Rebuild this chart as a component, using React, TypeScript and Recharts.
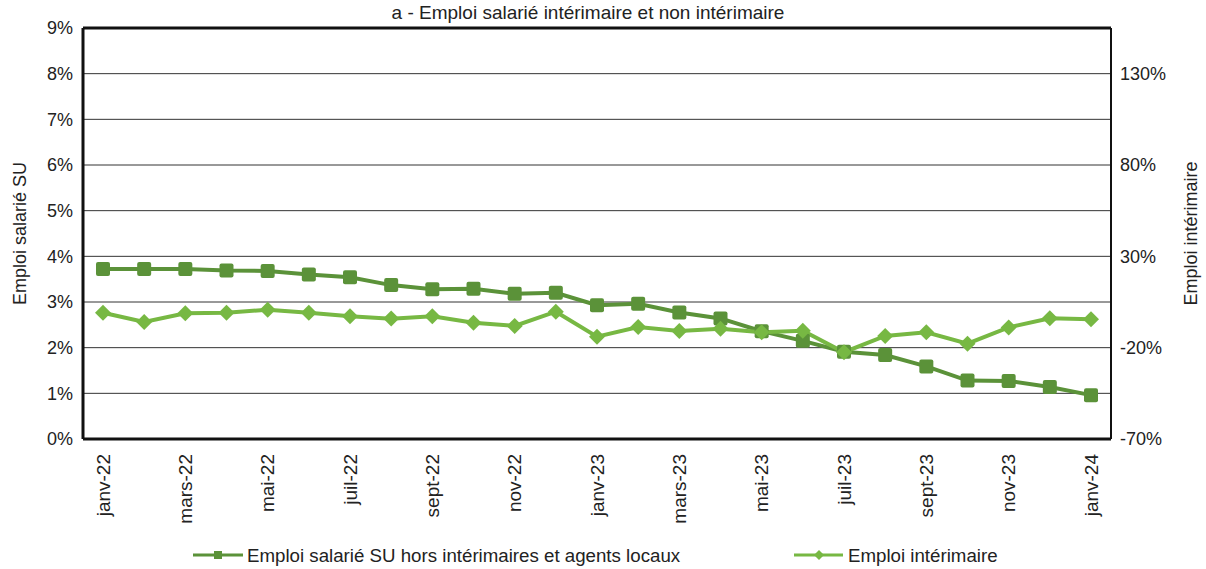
import React from "react";
import {
  LineChart,
  Line,
  XAxis,
  YAxis,
  CartesianGrid,
  ReferenceLine,
  Legend,
} from "recharts";

const months = [
  "janv-22", "févr-22", "mars-22", "avr-22", "mai-22", "juin-22", "juil-22", "août-22",
  "sept-22", "oct-22", "nov-22", "déc-22", "janv-23", "févr-23", "mars-23", "avr-23",
  "mai-23", "juin-23", "juil-23", "août-23", "sept-23", "oct-23", "nov-23", "déc-23", "janv-24",
];

// Emploi salarié SU hors intérimaires et agents locaux (left axis, %)
const salarieSU = [
  3.72, 3.72, 3.72, 3.69, 3.68, 3.6, 3.54, 3.37, 3.28, 3.29, 3.18, 3.2, 2.93,
  2.96, 2.77, 2.64, 2.36, 2.15, 1.91, 1.84, 1.59, 1.28, 1.27, 1.14, 0.96,
];

// Emploi intérimaire (right axis, %)
const interim = [
  -0.9, -5.9, -1.2, -0.9, 0.8, -0.9, -2.8, -4.1, -2.8, -6.3, -8.1, -0.3, -14.0,
  -8.7, -10.9, -9.6, -11.6, -10.7, -22.5, -13.6, -11.6, -17.8, -8.9, -3.9, -4.5,
];

const leftTicks = [0, 1, 2, 3, 4, 5, 6, 7, 8, 9];
const rightTicks = [-70, -20, 30, 80, 130];

const seriesNames = [
  "Emploi salarié SU hors intérimaires et agents locaux",
  "Emploi intérimaire",
];
const axisTitles = ["Emploi salarié SU", "Emploi intérimaire"];
const chartTitle = "a - Emploi salarié intérimaire et non intérimaire";

const DARK = "#5B9239";
const LIGHT = "#77B843";
const FONT = "'Liberation Sans', Arial, sans-serif";

const data = months.map((m, i) => ({ month: m, su: salarieSU[i], interim: interim[i] }));

const SquareDot = (props: any) => {
  const { cx, cy } = props;
  if (cx == null || cy == null) return null;
  return <rect x={cx - 7} y={cy - 7} width={14} height={14} rx={2} fill={DARK} />;
};

const DiamondDot = (props: any) => {
  const { cx, cy } = props;
  if (cx == null || cy == null) return null;
  const r = 8;
  return (
    <polygon
      points={`${cx},${cy - r} ${cx + r},${cy} ${cx},${cy + r} ${cx - r},${cy}`}
      fill={LIGHT}
    />
  );
};

const XTick = (props: any) => {
  const { x, y, payload } = props;
  const ty = y + 13;
  return (
    <text
      x={x}
      y={ty}
      transform={`rotate(-90, ${x}, ${ty})`}
      textAnchor="end"
      dy="0.35em"
      fill="#222"
      fontSize={19}
      fontFamily={FONT}
    >
      {payload.value}
    </text>
  );
};

const makeAxisLabel = (text: string, dxFromLeft: number) => (props: any) => {
  const vb = props.viewBox || {};
  const x = (vb.x ?? 0) + dxFromLeft;
  const y = (vb.y ?? 0) + (vb.height ?? 0) / 2;
  return (
    <text
      x={x}
      y={y}
      transform={`rotate(-90, ${x}, ${y})`}
      textAnchor="middle"
      dy="0.35em"
      fill="#222"
      fontSize={18}
      fontFamily={FONT}
    >
      {text}
    </text>
  );
};

const renderLegend = () => (
  <div style={{ position: "relative", width: 1206, height: 24, fontFamily: FONT }}>
    <svg width={1206} height={24} style={{ position: "absolute", left: 0, top: 0 }}>
      <line x1={193} x2={243} y1={12} y2={12} stroke={DARK} strokeWidth={3} />
      <rect x={214} y={8} width={8} height={8} fill={DARK} />
      <text x={247} y={12} dy="0.35em" fontSize={18.7} fill="#222" fontFamily={FONT}>
        {seriesNames[0]}
      </text>
      <line x1={794} x2={843} y1={12} y2={12} stroke={LIGHT} strokeWidth={3} />
      <polygon points="819,7 824,12 819,17 814,12" fill={LIGHT} />
      <text x={848} y={12} dy="0.35em" fontSize={18.7} fill="#222" fontFamily={FONT}>
        {seriesNames[1]}
      </text>
    </svg>
  </div>
);

export default function App() {
  return (
    <div style={{ position: "absolute", left: 0, top: 0, width: 1206, height: 569, background: "#fff" }}>
      <div
        style={{
          position: "absolute",
          left: 0,
          top: 2,
          width: 1176,
          textAlign: "center",
          fontFamily: FONT,
          fontSize: 19,
          color: "#222",
          lineHeight: "22px",
        }}
      >
        {chartTitle}
      </div>
      <LineChart
        width={1206}
        height={569}
        data={data}
        margin={{ top: 28, right: 0, bottom: 2, left: 0 }}
      >
        <CartesianGrid yAxisId="left" vertical={false} stroke="#333" strokeWidth={1} />
        <XAxis
          dataKey="month"
          interval={1}
          padding={{ left: 20, right: 20 }}
          tickLine={false}
          tickSize={0}
          tick={<XTick />}
          height={104}
          axisLine={{ stroke: "#111", strokeWidth: 3 }}
        />
        <YAxis
          yAxisId="left"
          orientation="left"
          width={83}
          domain={[0, 9]}
          ticks={leftTicks}
          interval={0}
          tickLine={false}
          tickMargin={4}
          tickFormatter={(v: number) => `${v}%`}
          tick={{ fill: "#222", fontSize: 18, fontFamily: FONT }}
          axisLine={{ stroke: "#111", strokeWidth: 3 }}
          label={makeAxisLabel(axisTitles[0], 20)}
        />
        <YAxis
          yAxisId="right"
          orientation="right"
          width={95}
          domain={[-70, 155]}
          ticks={rightTicks}
          interval={0}
          tickLine={false}
          tickMargin={3}
          tickFormatter={(v: number) => `${v}%`}
          tick={{ fill: "#222", fontSize: 18, fontFamily: FONT, textAnchor: "start" }}
          axisLine={{ stroke: "#111", strokeWidth: 2 }}
          label={makeAxisLabel(axisTitles[1], 80)}
        />
        <ReferenceLine yAxisId="left" y={9} stroke="#111" strokeWidth={3} />
        <Legend verticalAlign="bottom" content={renderLegend} />
        <Line
          yAxisId="left"
          type="linear"
          dataKey="su"
          name={seriesNames[0]}
          stroke={DARK}
          strokeWidth={4}
          dot={<SquareDot />}
          activeDot={false}
          isAnimationActive={false}
        />
        <Line
          yAxisId="right"
          type="linear"
          dataKey="interim"
          name={seriesNames[1]}
          stroke={LIGHT}
          strokeWidth={4}
          dot={<DiamondDot />}
          activeDot={false}
          isAnimationActive={false}
        />
      </LineChart>
    </div>
  );
}
